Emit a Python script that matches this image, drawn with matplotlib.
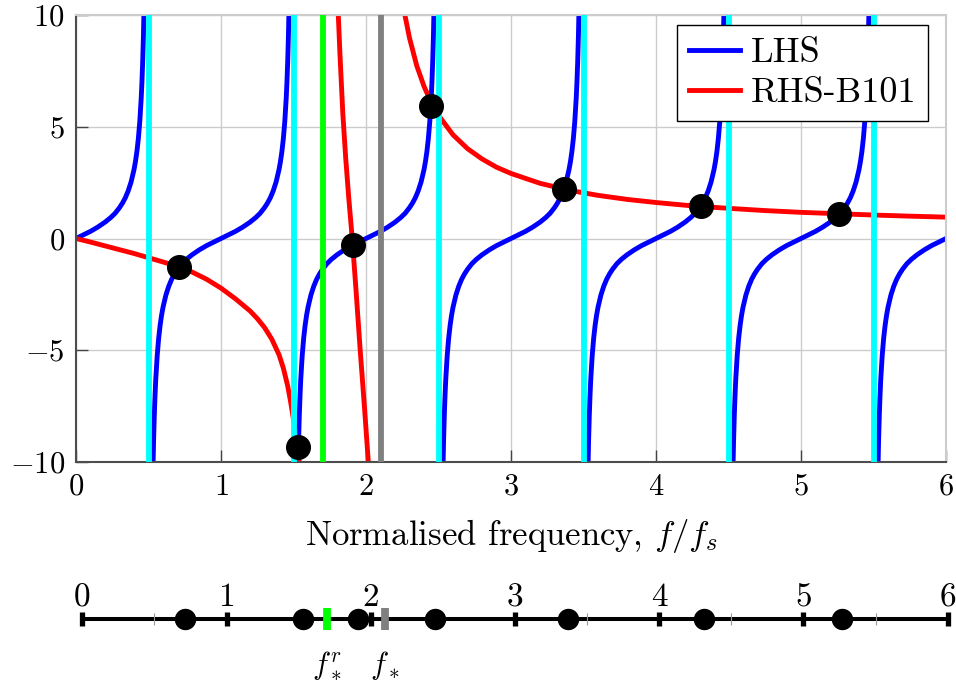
import matplotlib
matplotlib.use('Agg')
import matplotlib.pyplot as plt

plt.rcParams['font.family'] = ['cmr10', 'DejaVu Serif']
plt.rcParams['mathtext.fontset'] = 'cm'
plt.rcParams['axes.formatter.use_mathtext'] = True

# ---------------- data ----------------
x_ticks = [0, 1, 2, 3, 4, 5, 6]
x_tick_labels = ['$0$', '$1$', '$2$', '$3$', '$4$', '$5$', '$6$']
y_ticks = [-10, -5, 0, 5, 10]
y_tick_labels = ['$-10$', '$-5$', '$0$', '$5$', '$10$']
x_label = 'Normalised frequency, $f/f_s$'
legend_labels = ['LHS', 'RHS-B101']

# LHS: identical branches, one per integer frequency (offset from branch centre, value)
lhs_branch_centres = [0, 1, 2, 3, 4, 5, 6]
lhs_offset = [-0.48, -0.47, -0.465, -0.46, -0.455, -0.45, -0.44, -0.43, -0.42, -0.41,
              -0.40, -0.38, -0.36, -0.34, -0.32, -0.30, -0.27, -0.24, -0.20, -0.15,
              -0.10, -0.05, 0.0, 0.05, 0.10, 0.15, 0.20, 0.24, 0.27, 0.30, 0.32, 0.34,
              0.36, 0.38, 0.40, 0.41, 0.42, 0.43, 0.44, 0.45, 0.455, 0.46, 0.465, 0.47, 0.48]
lhs_value = [-15.9, -10.58, -9.06, -7.92, -7.03, -6.31, -5.24, -4.47, -3.89, -3.44,
             -3.08, -2.53, -2.13, -1.82, -1.58, -1.38, -1.13, -0.94, -0.73, -0.51,
             -0.32, -0.16, 0.0, 0.16, 0.32, 0.51, 0.73, 0.94, 1.13, 1.38, 1.58, 1.82,
             2.13, 2.53, 3.08, 3.44, 3.89, 4.47, 5.24, 6.31, 7.03, 7.92, 9.06, 10.58, 15.9]

# RHS-B101: three branches
rhs1_f = [0.0, 0.1, 0.2, 0.3, 0.4, 0.5, 0.6, 0.7, 0.8, 0.9, 1.0, 1.1, 1.2, 1.25,
          1.3, 1.35, 1.4, 1.43, 1.46, 1.48, 1.5, 1.52, 1.54, 1.56]
rhs1_y = [0.0, -0.16, -0.33, -0.50, -0.67, -0.86, -1.05, -1.24, -1.50, -1.82, -2.22,
          -2.70, -3.24, -3.58, -3.98, -4.50, -5.20, -5.80, -6.60, -7.30, -8.10, -9.00,
          -10.0, -11.2]
rhs2_f = [1.80, 1.809, 1.82, 1.84, 1.86, 1.88, 1.905, 1.93, 1.96, 1.99, 2.016, 2.025]
rhs2_y = [11.5, 10.0, 8.3, 5.6, 3.6, 1.9, 0.0, -2.2, -5.0, -7.6, -10.0, -10.9]
rhs3_f = [2.255, 2.27, 2.30, 2.35, 2.40, 2.45, 2.50, 2.60, 2.70, 2.80, 2.90, 3.00,
          3.20, 3.40, 3.60, 3.80, 4.00, 4.25, 4.50, 4.75, 5.00, 5.25, 5.50, 5.75, 6.00]
rhs3_y = [10.50, 9.94, 8.97, 7.73, 6.81, 6.08, 5.51, 4.64, 4.02, 3.56, 3.19, 2.91,
          2.47, 2.16, 1.93, 1.75, 1.61, 1.46, 1.35, 1.25, 1.17, 1.11, 1.05, 1.00, 0.955]

pole_lines = [0.5, 1.5, 2.5, 3.5, 4.5, 5.5]
f_star_r = 1.7
f_star = 2.1
root_f = [0.712, 1.533, 1.913, 2.446, 3.366, 4.31, 5.264]
root_y = [-1.26, -9.32, -0.29, 5.93, 2.21, 1.45, 1.10]

nl_major = [0, 1, 2, 3, 4, 5, 6]
nl_major_labels = ['0', '1', '2', '3', '4', '5', '6']
nl_minor = [0.5, 1.5, 2.5, 3.5, 4.5, 5.5]
nl_marker_labels = ['$f_*^r$', '$f_*$']

# ---------------- figure ----------------
W, H = 956, 686
fig = plt.figure(figsize=(W / 100, H / 100), dpi=100)
ax = fig.add_axes([76 / W, 1 - 462 / H, 870 / W, 447 / H])

lw_curve = 3.5
first = True
for c in lhs_branch_centres:
    ax.plot([c + d for d in lhs_offset], lhs_value, color='#0000ff', lw=lw_curve,
            zorder=2, label=legend_labels[0] if first else None)
    first = False
ax.plot(rhs1_f, rhs1_y, color='#ff0000', lw=lw_curve, zorder=2, label=legend_labels[1])
ax.plot(rhs2_f, rhs2_y, color='#ff0000', lw=lw_curve, zorder=2)
ax.plot(rhs3_f, rhs3_y, color='#ff0000', lw=lw_curve, zorder=2)

for p in pole_lines:
    ax.axvline(p, color='#00ffff', lw=4.2, zorder=3)
ax.axvline(f_star_r, color='#00ff00', lw=4.2, zorder=3)
ax.axvline(f_star, color='#808080', lw=4.2, zorder=3)

ax.plot(root_f, root_y, 'o', color='black', ms=17, zorder=5, clip_on=False)

ax.set_xlim(0, 6)
ax.set_ylim(-10, 10)
ax.set_xticks(x_ticks)
ax.set_xticklabels(x_tick_labels)
ax.set_yticks(y_ticks)
ax.set_yticklabels(y_tick_labels)
ax.grid(True, color='#cccccc', lw=1.0)
ax.set_axisbelow(True)
ax.tick_params(direction='in', length=8.5, width=1.0, color='#444444',
               labelsize=22, pad=8, top=False, right=False)
for s in ['left', 'bottom']:
    ax.spines[s].set_color('#4d4d4d')
    ax.spines[s].set_linewidth(1.5)
for s in ['top', 'right']:
    ax.spines[s].set_color('#cccccc')
    ax.spines[s].set_linewidth(1.5)
ax.set_xlabel(x_label, fontsize=25, labelpad=12)

leg = ax.legend(loc='upper right', bbox_to_anchor=((928.3 - 76) / 870, (462 - 25) / 447),
                borderaxespad=0, fontsize=26, fancybox=False, framealpha=1,
                edgecolor='black', handlelength=1.42, handletextpad=0.3,
                borderpad=0.33, labelspacing=0.22)
leg.get_frame().set_linewidth(1.0)
leg.set_zorder(10)

# ---------------- number line ----------------
ax2 = fig.add_axes([82.3 / W, 0, (947.7 - 82.3) / W, 116 / H])
ax2.set_xlim(nl_major[0], nl_major[-1])
ax2.set_ylim(-67, 49)
ax2.axis('off')
ax2.plot([nl_major[0], nl_major[-1]], [0, 0], color='black', lw=2.9,
         solid_capstyle='butt', zorder=1, clip_on=False)
ax2.vlines(nl_minor, -6, 6, color='#999999', lw=0.8, zorder=1)
ax2.vlines(nl_major, -7, 7, color='black', lw=3.8, zorder=2, clip_on=False)
for x, lab in zip(nl_major, nl_major_labels):
    ax2.text(x, 12.6, lab, ha='center', va='baseline', fontsize=24, clip_on=False)
ax2.plot(root_f, [0] * len(root_f), 'o', color='black', ms=14.4, zorder=3, clip_on=False)
ax2.vlines([f_star_r], -11, 11, color='#00ff00', lw=5.6, zorder=4)
ax2.vlines([f_star], -11, 11, color='#808080', lw=5.6, zorder=4)
ax2.text(f_star_r, -54.5, nl_marker_labels[0], ha='center', va='baseline', fontsize=22)
ax2.text(f_star, -54.5, nl_marker_labels[1], ha='center', va='baseline', fontsize=22)

fig.savefig('out.png', dpi=100)
